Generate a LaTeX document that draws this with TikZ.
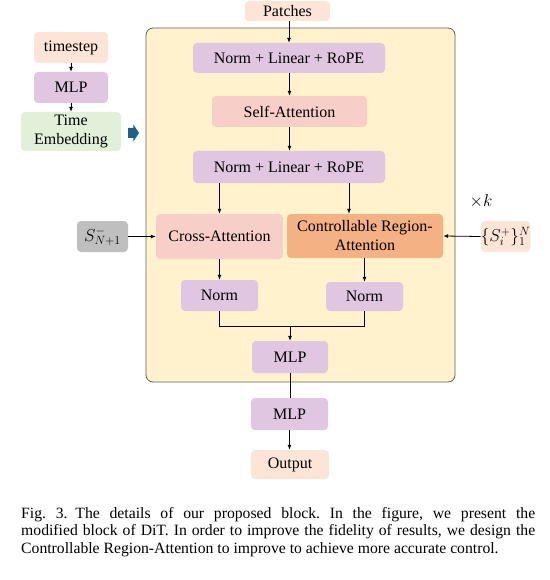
\documentclass[tikz,border=0pt]{standalone}
\usepackage{fontspec}
\setmainfont{Liberation Serif}
\usetikzlibrary{arrows.meta}
\definecolor{cpurple}{RGB}{224,198,224}
\definecolor{cpink}{RGB}{248,207,200}
\definecolor{corange}{RGB}{244,177,131}
\definecolor{cpeach}{RGB}{252,229,215}
\definecolor{cgreen}{RGB}{226,240,218}
\definecolor{cgray}{RGB}{191,191,191}
\definecolor{cyellow}{RGB}{255,242,204}
\definecolor{cborder}{RGB}{95,95,95}
\definecolor{cblue}{RGB}{30,96,140}
\tikzset{
  box/.style={rounded corners=4pt, inner sep=0pt, align=center, font=\fontsize{16}{19}\selectfont},
  mathbox/.style={rounded corners=4pt, inner sep=0pt, align=center, font=\fontsize{17.5}{19}\selectfont},
  arr/.style={-{Latex[length=5pt,width=4pt]}, line width=0.8pt},
  ln/.style={line width=0.8pt},
}
\begin{document}
\begin{tikzpicture}[x=1pt,y=-1pt]
\useasboundingbox (0,0) rectangle (549,580);
% big block
\draw[fill=cyellow, draw=cborder, line width=0.8pt, rounded corners=7pt] (146,28) rectangle (455,382);
% main column
\node[box, fill=cpeach, minimum width=85pt, minimum height=20pt] (patches) at (287.5,11) {Patches};
\node[box, fill=cpurple, minimum width=192pt, minimum height=30pt] (nlr1) at (289,58) {Norm + Linear + RoPE};
\node[box, fill=cpink, minimum width=155pt, minimum height=31pt] (sa) at (289.5,111.5) {Self-Attention};
\node[box, fill=cpurple, minimum width=192pt, minimum height=32pt] (nlr2) at (289,167) {Norm + Linear + RoPE};
\node[box, fill=cpink, minimum width=127pt, minimum height=45pt] (ca) at (219.5,236.5) {Cross-Attention};
\node[box, fill=corange, minimum width=156pt, minimum height=44pt] (cra) at (365,236) {Controllable Region-\\Attention};
\node[mathbox, fill=cgray, minimum width=51pt, minimum height=31pt] (sn) at (102.5,236.5) {$S_{N+1}^{-}$};
\node[mathbox, fill=cpeach, minimum width=49pt, minimum height=31pt] (si) at (505.5,236.5) {$\{S_i^{+}\}_1^N$};
\node[font=\fontsize{18}{20}\selectfont, inner sep=0pt] (xk) at (481,201) {$\times k$};
\node[box, fill=cpurple, minimum width=77pt, minimum height=31pt] (norm1) at (219.5,295.5) {Norm};
\node[box, fill=cpurple, minimum width=77pt, minimum height=29pt] (norm2) at (364.5,296.5) {Norm};
\node[box, fill=cpurple, minimum width=76pt, minimum height=32pt] (mlp1) at (290,357) {MLP};
\node[box, fill=cpurple, minimum width=77pt, minimum height=32pt] (mlp2) at (289.5,414) {MLP};
\node[box, fill=cpeach, minimum width=78pt, minimum height=29pt] (out) at (290,464.5) {Output};
% left column
\node[box, fill=cpeach, minimum width=74pt, minimum height=31pt] (ts) at (71,47.5) {timestep};
\node[box, fill=cpurple, minimum width=74pt, minimum height=31pt] (mlp0) at (71,87.5) {MLP};
\node[box, fill=cgreen, minimum width=100pt, minimum height=39pt] (te) at (71,131.5) {Time\\Embedding};
% connectors
\draw[arr] (patches.south -| nlr1) -- (nlr1.north);
\draw[arr] (nlr1.south -| sa) -- (sa.north);
\draw[arr] (sa.south) -- (sa.south |- nlr2.north);
\draw[arr] (nlr2.south -| ca) -- (ca.north);
\coordinate (craIn) at ([xshift=-16pt]cra.north);
\draw[arr] (nlr2.south -| craIn) -- (craIn);
\draw[arr] (sn.east) -- (ca.west);
\draw[arr] (si.west) -- (cra.east);
\draw[arr] (ca.south) -- (norm1.north);
\draw[arr] (cra.south -| norm2) -- (norm2.north);
\coordinate (mergeL) at (219.5,326);
\coordinate (mergeR) at (364.5,326);
\draw[ln] (norm1.south) -- (mergeL) -- (mergeR) -- (norm2.south);
\draw[arr] (mlp1.north |- mergeL) -- (mlp1.north);
\draw[ln] (mlp1.south) -- (mlp1.south |- mlp2.north);
\draw[arr] (mlp2.south) -- (mlp2.south |- out.north);
\draw[arr] (ts.south) -- (mlp0.north);
\draw[arr] (mlp0.south) -- (te.north);
% blue block arrow
\fill[cblue] (128,128) -- (133.3,128) -- (133.3,124.3) -- (139,133) -- (133.3,141.7) -- (133.3,138) -- (128,138) -- cycle;
% caption
\node[anchor=north west, inner sep=0pt, text width=514pt, align=justify, font=\fontsize{15.7}{17.6}\selectfont\frenchspacing] (cap) at (21,507)
{Fig.~3.\enspace The details of our proposed block. In the figure, we present the\linebreak
modified block of DiT. In order to improve the fidelity of results, we design the\linebreak
Controllable Region-Attention to improve to achieve more accurate control.};
\end{tikzpicture}
\end{document}
